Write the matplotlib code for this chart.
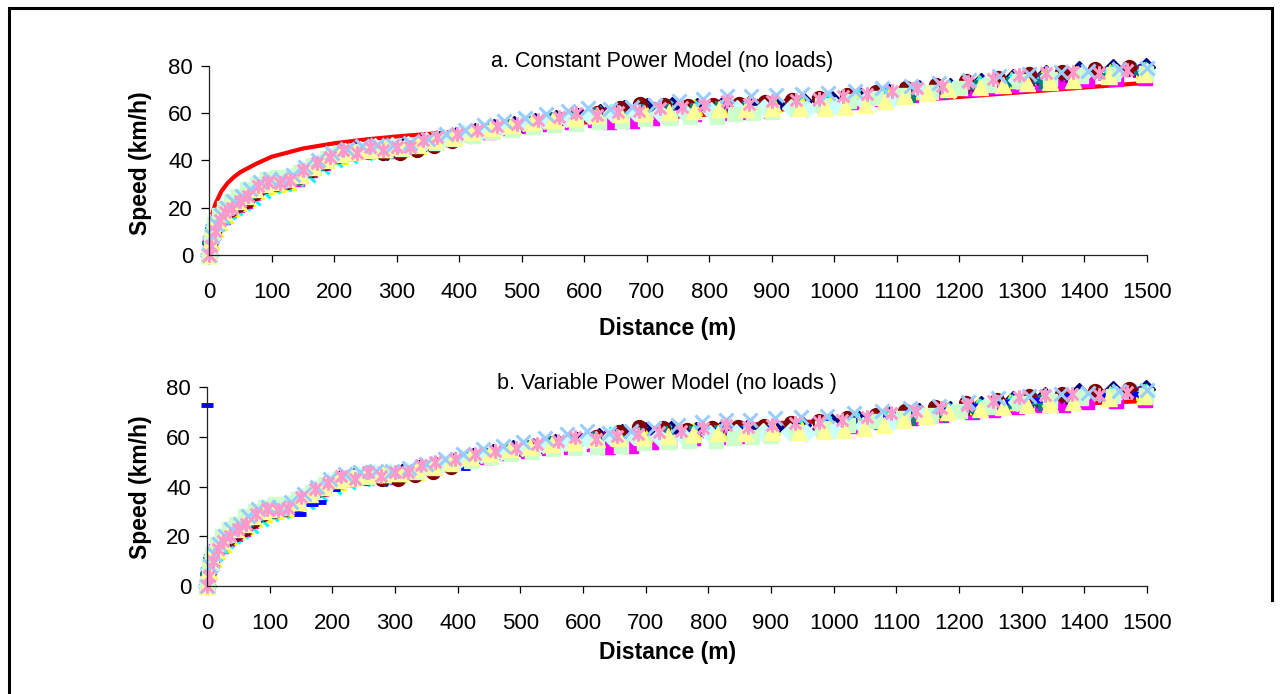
import matplotlib
matplotlib.use("Agg")
import matplotlib.pyplot as plt
from matplotlib.path import Path
from matplotlib.lines import Line2D

plt.rcParams['font.family'] = ['Liberation Sans', 'DejaVu Sans']

# ---------------- data ----------------
x_ticks = [0, 100, 200, 300, 400, 500, 600, 700, 800, 900, 1000, 1100, 1200, 1300, 1400, 1500]
y_ticks = [0, 20, 40, 60, 80]

title_a = "a. Constant Power Model (no loads)"
title_b = "b. Variable Power Model (no loads )"
x_label = "Distance (m)"
y_label = "Speed (km/h)"

# model curves
model_a_dist = [5, 10, 20, 30, 40, 50, 75, 100, 150, 200, 250, 300, 400, 500, 600, 700, 800, 900, 1000, 1100, 1200, 1300, 1400, 1500]
model_a_speed = [17, 21.5, 27, 30.5, 33, 35, 38.5, 41.5, 45, 47.2, 48.8, 50.1, 52.2, 54.2, 56, 57.7, 59.4, 61.2, 63, 64.9, 66.8, 68.8, 70.8, 72.8]

model_b_dist = [0, 5, 10, 20, 30, 50, 75, 100, 150, 200, 250, 300, 400, 500, 600, 700, 800, 900, 1000, 1100, 1200, 1300, 1400, 1500]
model_b_speed = [0, 8, 12, 16, 19, 23, 27, 30.5, 36, 41, 44, 47, 51, 55, 58.5, 61.5, 63.5, 65.5, 66.5, 69, 71.5, 72.5, 73.5, 74.5]

# measured runs
run1_dist = [0, 4, 10, 17, 26, 36, 48, 62, 77, 93, 110, 128, 148, 168, 190, 212, 235, 260, 285, 311, 338, 366, 395, 425, 456, 488, 521, 555, 590, 626, 663, 701, 740, 780, 821, 863, 906, 950, 995, 1041, 1088, 1136, 1185, 1235, 1286, 1338, 1391, 1445, 1499]
run1_speed = [0, 7, 12, 15, 18, 20, 22, 25, 28, 30, 31, 32, 35, 38, 41, 43, 44, 45, 44, 45.5, 47, 48.5, 50.5, 52, 53.5, 55, 56, 57.5, 58.5, 60, 61.5, 62.5, 63, 62.5, 63, 63.5, 64, 65, 66, 67, 68.5, 70, 71, 73, 75, 76.5, 78, 79, 79.5]

run2_dist = [0, 2, 7, 14, 22, 32, 44, 57, 71, 87, 104, 122, 141, 161, 182, 204, 227, 251, 276, 302, 329, 357, 386, 416, 447, 479, 512, 546, 581, 617, 640, 676, 708, 737, 775, 815, 856, 898, 941, 985, 1030, 1076, 1123, 1171, 1220, 1254, 1292, 1332, 1366, 1404, 1450, 1497]
run2_speed = [0, 5, 10, 14, 16, 19, 21, 23, 26, 29, 31, 31, 32, 36, 39, 42, 43, 44, 45, 44, 46, 47.5, 49, 51, 52, 53.5, 54.5, 55.5, 56, 57, 56, 56.5, 58, 58.5, 59.5, 60, 60.5, 61, 62, 63, 64.5, 66, 67.5, 69, 70, 71, 72, 72.8, 73, 74, 74.5, 75]

run3_dist = [0, 3, 9, 16, 25, 35, 47, 60, 75, 91, 108, 126, 145, 166, 187, 209, 232, 256, 281, 307, 334, 362, 391, 421, 452, 484, 517, 551, 586, 622, 659, 697, 736, 776, 817, 859, 902, 946, 991, 1037, 1084, 1132, 1181, 1231, 1282, 1334, 1387, 1441, 1496]
run3_speed = [0, 6, 11, 14, 17, 20, 22, 24, 27, 29, 30, 31, 34, 37, 40, 42, 44, 45, 45, 45, 46, 48, 50, 51.5, 53, 54.5, 56, 57, 58, 59, 60, 61, 62, 62.5, 62, 63, 64, 64.5, 65.5, 67, 68, 69.5, 71, 72.5, 74, 75.5, 76.5, 77.5, 78]

run4_dist = [0, 2, 6, 13, 21, 31, 42, 55, 70, 86, 102, 120, 139, 159, 180, 202, 225, 249, 274, 300, 327, 355, 384, 414, 445, 477, 510, 544, 579, 615, 652, 690, 729, 769, 810, 852, 895, 939, 984, 1030, 1077, 1125, 1174, 1224, 1275, 1327, 1380, 1434, 1489]
run4_speed = [0, 5, 10, 13, 16, 18, 20, 22, 24, 27, 29, 30, 32, 34, 37, 40, 42, 43, 43.5, 44, 45, 47, 49, 51, 52.5, 54, 55.5, 57, 58.5, 60, 61, 61.5, 62, 62, 62.5, 63, 63.5, 64.5, 65.5, 67, 68.5, 70, 71, 72.5, 74, 75, 76.5, 77.5, 78.5]

run5_dist = [0, 4, 9, 17, 26, 37, 49, 63, 78, 94, 111, 129, 149, 170, 192, 215, 239, 264, 290, 317, 345, 374, 404, 435, 467, 500, 534, 569, 605, 642, 680, 719, 759, 800, 842, 885, 929, 974, 1020, 1067, 1115, 1164, 1214, 1265, 1317, 1370, 1424, 1479]
run5_speed = [0, 7, 12, 15, 18, 21, 23, 26, 28, 30, 31, 32, 35, 38, 41, 43, 44, 45, 44.5, 45.5, 47, 49, 51, 52.5, 54, 55, 56.5, 58, 59, 60, 61, 62, 62, 62.5, 63, 63.5, 64, 65, 66, 67.5, 69, 70, 71.5, 73, 74.5, 76, 77, 78]

run6_dist = [0, 3, 8, 15, 24, 34, 46, 60, 74, 90, 107, 125, 144, 164, 185, 207, 230, 254, 279, 305, 332, 360, 389, 419, 450, 482, 515, 549, 584, 620, 657, 689, 727, 766, 806, 847, 889, 932, 976, 1021, 1067, 1114, 1162, 1211, 1261, 1312, 1364, 1417, 1471]
run6_speed = [0, 6, 10, 14, 17, 19, 21, 23, 26, 29, 30, 31, 33, 36, 39, 42, 43, 43.5, 43, 43, 44.5, 46, 48, 50.5, 52.5, 54, 55.5, 57, 58.5, 60, 62, 64, 63.5, 63, 63.5, 64, 64.5, 65.5, 66.5, 67.5, 69, 70.5, 72, 73.5, 75, 76.5, 77.5, 78.5, 79.5]

run7_dist = [0, 2, 7, 14, 23, 33, 44, 57, 72, 88, 105, 123, 142, 162, 183, 205, 228, 252, 277, 303, 330, 358, 387, 417, 448, 480, 513, 547, 582, 618, 655, 693, 732, 772, 813, 855, 898, 942, 987, 1033, 1080, 1128, 1177, 1227, 1278, 1330, 1383, 1437, 1492]
run7_speed = [0, 5, 11, 14, 17, 19, 22, 24, 27, 29, 30, 31, 33, 36, 39, 42, 43, 44, 44.5, 45, 46, 47.5, 49.5, 51, 52.5, 54, 55.5, 57, 58, 59, 60, 60.5, 61, 61, 61.5, 61.5, 62, 62.5, 63.5, 65, 66, 67.5, 69, 70.5, 72, 73.5, 75, 76, 77]

# blue-dash run (visible in panel b only)
run8_dist = [0, 0, 3, 9, 16, 25, 36, 48, 62, 77, 93, 110, 128, 149, 168, 181, 203, 226, 250, 275, 301, 328, 356, 384, 410, 442, 474, 507, 541, 576, 612, 649, 687, 726, 766, 807, 849, 892, 936, 981, 1027, 1074, 1122, 1171, 1221, 1272, 1324, 1377, 1431, 1486]
run8_speed = [73, 0, 3, 9, 13, 16, 19, 21, 23, 26, 28, 29, 30, 29, 33, 34, 39, 41, 42, 43, 43.5, 45, 46.5, 48, 47.5, 51, 53, 55, 56.5, 58, 59, 60, 61, 60.5, 62, 63, 63.5, 64, 65, 66, 67, 68.5, 70, 71, 72.5, 74, 75, 76.5, 77, 77.5]

run10_dist = [0, 4, 10, 18, 27, 38, 50, 64, 79, 95, 112, 131, 151, 172, 194, 217, 241, 266, 292, 319, 347, 376, 406, 437, 469, 502, 536, 571, 607, 644, 682, 721, 761, 802, 844, 887, 931, 956, 1001, 1047, 1094, 1142, 1191, 1241, 1292, 1344, 1397, 1451, 1500]
run10_speed = [0, 7, 12, 16, 19, 22, 24, 27, 29, 31, 32, 33, 36, 39, 42, 43.5, 44.5, 45.5, 46, 46.5, 48, 49.5, 51.5, 53, 54.5, 56, 57, 58, 59, 60, 60.5, 60, 60, 61, 61.5, 62, 62, 61.5, 63, 64.5, 66.5, 68.5, 70, 72, 74, 75.5, 76.5, 77, 77.5]

run11_dist = [0, 3, 8, 16, 24, 35, 47, 61, 76, 92, 109, 127, 146, 167, 188, 210, 233, 257, 282, 308, 335, 363, 392, 422, 453, 485, 518, 552, 587, 623, 660, 698, 737, 769, 812, 841, 870, 900, 940, 981, 1023, 1066, 1110, 1155, 1201, 1248, 1296, 1345, 1395, 1446, 1498]
run11_speed = [0, 8, 13, 17, 20, 23, 25, 28, 30, 32, 33, 33, 35, 38, 41, 43, 44, 44, 44.5, 45, 46, 47.5, 49, 50.5, 52, 53, 54, 55, 55.5, 56, 56.5, 57.5, 58, 58.5, 58.5, 59.5, 60, 60.5, 62, 63.5, 65, 66.5, 67.5, 69, 70.5, 72, 73.5, 74.5, 75.5, 76.5, 77]

run12_dist = [0, 2, 7, 15, 24, 34, 46, 59, 74, 90, 107, 125, 144, 165, 186, 208, 231, 255, 280, 306, 333, 361, 390, 420, 451, 483, 516, 550, 585, 621, 658, 696, 735, 775, 816, 858, 901, 945, 985, 1017, 1049, 1081, 1113, 1148, 1182, 1233, 1270, 1308, 1345, 1382, 1440, 1495]
run12_speed = [0, 6, 12, 15, 18, 21, 23, 25, 28, 30, 31, 32, 34, 37, 40, 42.5, 43.5, 44.5, 45, 45.5, 47, 48.5, 50, 52, 53.5, 55, 56, 57, 58, 59, 59.5, 60, 60.5, 61, 61.5, 61.5, 62, 62, 62.3, 62.7, 63.6, 65, 67, 68.6, 70, 71.2, 72, 72.8, 73.3, 74, 75.5, 76.5]

run13_dist = [0, 4, 11, 19, 28, 39, 52, 66, 81, 97, 115, 134, 154, 175, 197, 220, 244, 269, 295, 322, 350, 379, 409, 440, 472, 505, 539, 574, 606, 641, 677, 714, 752, 790, 828, 867, 907, 948, 990, 1033, 1077, 1122, 1168, 1215, 1263, 1312, 1362, 1406, 1455, 1500]
run13_speed = [0, 8, 13, 17, 20, 23, 25, 28, 31, 32, 32, 34, 37, 40, 43, 45, 46, 46.5, 46.5, 47.5, 49, 51, 53, 55, 56.5, 58, 59.5, 61, 62.3, 61.5, 62.5, 63.5, 65, 66, 67, 67, 67.5, 68, 68.5, 69.5, 70.5, 71.5, 72.5, 74, 75.5, 76.5, 77.5, 77.6, 78.5, 79]

run14_dist = [0, 3, 9, 17, 26, 37, 49, 63, 78, 95, 113, 129, 150, 172, 193, 214, 236, 257, 278, 300, 321, 342, 364, 396, 428, 460, 493, 526, 560, 587, 620, 654, 688, 722, 757, 792, 828, 864, 901, 938, 976, 1014, 1053, 1092, 1132, 1172, 1213, 1254, 1296, 1338, 1381, 1424, 1468]
run14_speed = [0, 4, 10, 15, 18, 20, 23, 25, 29, 31, 30.5, 31.5, 36, 39, 41.5, 44.4, 43, 45.8, 44.4, 45.8, 45.8, 48.7, 50, 51, 53, 54.5, 55.5, 57, 58.5, 60, 59, 60.5, 61, 62, 62.5, 63.5, 65, 64, 65, 65.5, 66, 67, 68, 69.5, 70.5, 71.5, 73, 74.5, 76, 77, 77.5, 77, 78]

# ---------------- styles ----------------
star_path = Path([(-1, -1), (1, 1), (-1, 1), (1, -1), (0, -1.25), (0, 1.25)],
                 [Path.MOVETO, Path.LINETO, Path.MOVETO, Path.LINETO, Path.MOVETO, Path.LINETO])

# (data, style, panels where shown)
series = [
    (run1_dist, run1_speed, dict(marker='D', color='#000080', ms=9, mew=1), 'ab'),
    (run2_dist, run2_speed, dict(marker='s', color='#FF00FF', ms=10, mew=1), 'ab'),
    (run3_dist, run3_speed, dict(marker='^', color='#FFFF00', ms=11, mew=1), 'ab'),
    (run4_dist, run4_speed, dict(marker='x', color='#00FFFF', ms=10, mew=2.2), 'ab'),
    (run5_dist, run5_speed, dict(marker=star_path, color='#800080', ms=10.5, mew=2.2), 'ab'),
    (run6_dist, run6_speed, dict(marker='o', color='#800000', ms=10, mew=1), 'ab'),
    (run7_dist, run7_speed, dict(marker='+', color='#008080', ms=11.5, mew=2.8), 'ab'),
    (run8_dist, run8_speed, dict(marker='_', color='#0000FF', ms=8, mew=3.5), 'b'),
    (run10_dist, run10_speed, dict(marker='D', color='#CCFFFF', ms=9, mew=1), 'ab'),
    (run11_dist, run11_speed, dict(marker='s', color='#CCFFCC', ms=10, mew=1), 'ab'),
    (run12_dist, run12_speed, dict(marker='^', color='#FFFF99', ms=11, mew=1), 'ab'),
    (run13_dist, run13_speed, dict(marker='x', color='#99CCFF', ms=10.5, mew=2.2), 'ab'),
    (run14_dist, run14_speed, dict(marker=star_path, color='#FF99CC', ms=10.5, mew=2.2), 'ab'),
]

W, H = 1285, 694
fig = plt.figure(figsize=(W / 100, H / 100), dpi=100)


def px_axes(x0, x1, ytop, ybot):
    return fig.add_axes([x0 / W, (H - ybot) / H, (x1 - x0) / W, (ybot - ytop) / H])


ax_a = px_axes(209, 1147, 65.7, 255)
ax_b = px_axes(207, 1147, 387.3, 586)


def draw_panel(ax, key, model_d, model_v):
    ax.plot(model_d, model_v, color='#FF0000', lw=3, zorder=1, solid_capstyle='butt')
    for d, v, st, panels in series:
        if key not in panels:
            continue
        n = min(len(d), len(v))
        ax.plot(d[:n], v[:n], linestyle='none', marker=st['marker'], ms=st['ms'],
                mfc=st['color'], mec=st['color'], mew=st['mew'], clip_on=False, zorder=2)
    ax.set_xlim(0, 1500)
    ax.set_ylim(0, 80)
    ax.set_xticks(x_ticks)
    ax.set_yticks(y_ticks)
    ax.spines['top'].set_visible(False)
    ax.spines['right'].set_visible(False)
    for s in ('left', 'bottom'):
        ax.spines[s].set_linewidth(0.9)
        ax.spines[s].set_color('#222222')
    ax.tick_params(axis='x', direction='out', length=5, width=0.9, pad=14.5, labelsize=16, colors='black')
    ax.tick_params(axis='y', direction='out', length=6, width=0.9, pad=5.5, labelsize=16, colors='black')
    ax.patch.set_alpha(0)


draw_panel(ax_a, 'a', model_a_dist, model_a_speed)
draw_panel(ax_b, 'b', model_b_dist, model_b_speed)

# titles and labels
fig.text(662 / W, 1 - 61 / H, title_a, ha='center', va='center', fontsize=15.5)
fig.text(667 / W, 1 - 383 / H, title_b, ha='center', va='center', fontsize=15.5)
fig.text(668 / W, 1 - 328 / H, x_label, ha='center', va='center', fontsize=16.5, fontweight='bold')
fig.text(668 / W, 1 - 653 / H, x_label, ha='center', va='center', fontsize=16.5, fontweight='bold')
fig.text(141 / W, 1 - 163.5 / H, y_label, ha='center', va='center', rotation=90, fontsize=16.5, fontweight='bold')
fig.text(141 / W, 1 - 487 / H, y_label, ha='center', va='center', rotation=90, fontsize=16.5, fontweight='bold')

# outer frame (left, top, right edges)
frame = Line2D([9 / W, 9 / W, 1272 / W, 1272 / W], [0, 1 - 7.5 / H, 1 - 7.5 / H, 1 - 600 / H],
               transform=fig.transFigure, color='black', lw=2.2, solid_joinstyle='miter')
fig.add_artist(frame)

fig.savefig('out.png', dpi=100)
